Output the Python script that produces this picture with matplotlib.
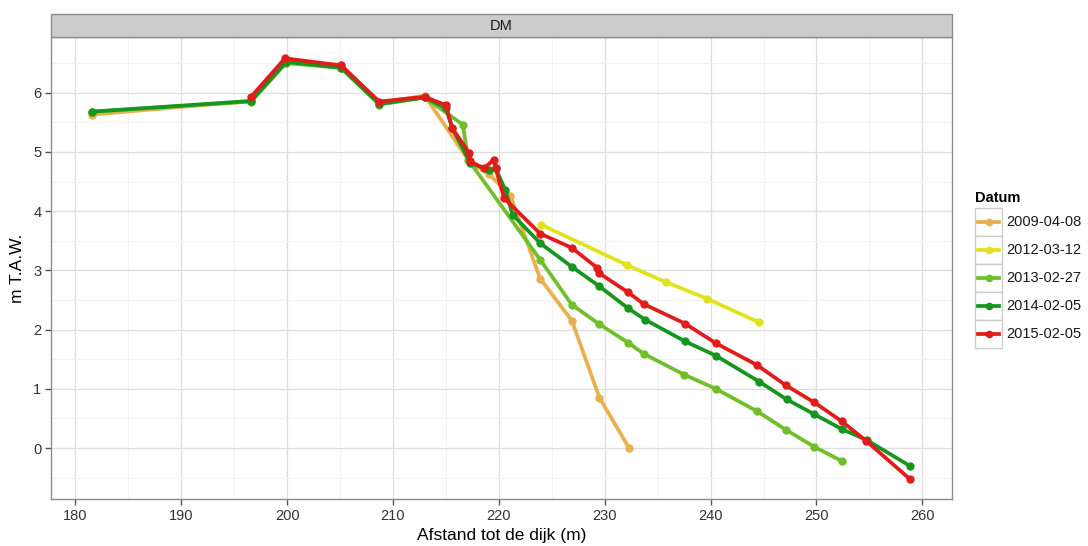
import matplotlib.pyplot as plt
from matplotlib.patches import Rectangle
from matplotlib.lines import Line2D
from matplotlib.ticker import MultipleLocator

plt.rcParams['font.family'] = ['Liberation Sans', 'DejaVu Sans']

# profile data per survey date (distance to dike in m, height in m T.A.W.)
dates = ['2009-04-08', '2012-03-12', '2013-02-27', '2014-02-05', '2015-02-05']
colors = ['#E8B04E', '#E2E21C', '#70BF2A', '#16961E', '#E21B1B']

x_2009 = [181.6, 196.6, 199.9, 205.1, 208.7, 213.0, 217.2, 219.1, 221.1, 223.9, 226.9, 229.5, 232.3]
y_2009 = [5.63, 5.86, 6.50, 6.47, 5.83, 5.95, 4.84, 4.62, 4.26, 2.86, 2.15, 0.85, 0.00]

x_2012 = [224.0, 232.1, 235.8, 239.7, 244.6]
y_2012 = [3.77, 3.09, 2.80, 2.52, 2.12]

x_2013 = [181.6, 196.6, 199.9, 205.1, 208.7, 213.0, 216.6, 217.1, 223.9, 226.9,
          229.5, 232.2, 233.7, 237.5, 240.5, 244.4, 247.1, 249.8, 252.4]
y_2013 = [5.68, 5.85, 6.50, 6.42, 5.80, 5.92, 5.46, 4.87, 3.18, 2.42,
          2.09, 1.78, 1.59, 1.24, 1.00, 0.62, 0.31, 0.02, -0.22]

x_2014 = [181.6, 196.6, 199.9, 205.1, 208.7, 213.0, 215.0, 215.6, 217.3, 219.1, 219.7,
          220.6, 221.3, 223.9, 226.9, 229.5, 232.2, 233.8, 237.6, 240.5, 244.6,
          247.2, 249.8, 252.4, 254.8, 258.8]
y_2014 = [5.68, 5.86, 6.52, 6.42, 5.81, 5.92, 5.74, 5.40, 4.81, 4.70, 4.72,
          4.36, 3.94, 3.46, 3.06, 2.73, 2.36, 2.17, 1.80, 1.56, 1.12,
          0.82, 0.57, 0.32, 0.13, -0.30]

x_2015 = [196.6, 199.8, 205.1, 208.7, 213.0, 215.0, 215.6, 217.2, 217.3, 218.6, 219.5,
          219.7, 220.5, 223.9, 226.9, 229.3, 229.5, 232.2, 233.7, 237.6, 240.5,
          244.4, 247.1, 249.8, 252.4, 254.7, 258.8]
y_2015 = [5.93, 6.58, 6.46, 5.85, 5.93, 5.79, 5.40, 4.98, 4.84, 4.72, 4.87,
          4.72, 4.22, 3.62, 3.38, 3.04, 2.95, 2.63, 2.43, 2.10, 1.77,
          1.40, 1.06, 0.77, 0.45, 0.12, -0.52]

series = [(x_2009, y_2009), (x_2012, y_2012), (x_2013, y_2013), (x_2014, y_2014), (x_2015, y_2015)]

fig = plt.figure(figsize=(10.88, 5.46), dpi=100)
W, H = 1088, 546
left, right, bottom, top = 51, 952, 499, 37
ax = fig.add_axes([left / W, 1 - bottom / H, (right - left) / W, (bottom - top) / H])

for (xs, ys), c in zip(series, colors):
    ax.plot(xs, ys, color=c, lw=2.7, marker='o', ms=5, solid_capstyle='round')

ax.set_xlim(177.7, 262.8)
ax.set_ylim(-0.86, 6.94)
ax.xaxis.set_major_locator(MultipleLocator(10))
ax.xaxis.set_minor_locator(MultipleLocator(5))
ax.yaxis.set_major_locator(MultipleLocator(1))
ax.yaxis.set_minor_locator(MultipleLocator(0.5))
ax.grid(which='major', color='#DEDEDE', lw=0.9)
ax.grid(which='minor', color='#F2F2F2', lw=0.7)
ax.set_axisbelow(True)
ax.tick_params(which='minor', length=0)
ax.tick_params(which='major', length=4, width=1, color='#555555', labelsize=10.5,
               labelcolor='#333333', pad=3)
for sp in ax.spines.values():
    sp.set_color('#8C8C8C')
    sp.set_linewidth(1)

ax.set_xlabel('Afstand tot de dijk (m)', fontsize=12.5, labelpad=4)
ax.set_ylabel('m T.A.W.', fontsize=12.5, labelpad=6)

# facet strip
strip = Rectangle((left / W, 1 - top / H), (right - left) / W, 23 / H,
                  transform=fig.transFigure, facecolor='#CCCCCC', edgecolor='#8C8C8C', lw=1)
fig.add_artist(strip)
fig.text((left + right) / 2 / W, 1 - 25.5 / H, 'DM', ha='center', va='center', fontsize=10.5,
         color='#1A1A1A')

# legend
fig.text(975 / W, 1 - 198 / H, 'Datum', ha='left', va='center', fontsize=10.5, fontweight='bold')
row_y = [222, 250, 278, 306, 334]
for lab, c, ry in zip(dates, colors, row_y):
    box = Rectangle((975 / W, 1 - (ry + 14) / H), 27 / W, 28 / H, transform=fig.transFigure,
                    facecolor='white', edgecolor='#CCCCCC', lw=1)
    fig.add_artist(box)
    fig.add_artist(Line2D([978 / W, 999 / W], [1 - ry / H, 1 - ry / H], transform=fig.transFigure,
                          color=c, lw=2.7))
    fig.add_artist(Line2D([988.5 / W], [1 - ry / H], transform=fig.transFigure, color=c,
                          marker='o', ms=4.5))
    fig.text(1006 / W, 1 - ry / H, lab, ha='left', va='center', fontsize=10.5, color='#1A1A1A')

fig.savefig('out.png', dpi=100)
